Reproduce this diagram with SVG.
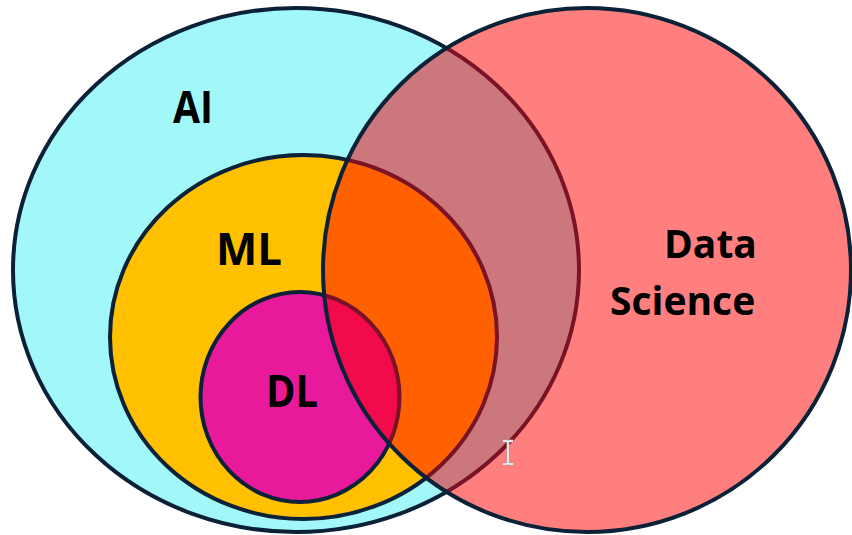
<svg xmlns="http://www.w3.org/2000/svg" width="852" height="535" viewBox="0 0 852 535">
<style>
.lbl{font-family:"Open Sans","Liberation Sans",sans-serif;font-weight:bold;fill:#000}
.edge{stroke:#0B2138;stroke-width:4}
.inner{stroke:#7A1326;stroke-width:4}
</style>
<defs>
<clipPath id="dsClip"><ellipse cx="587" cy="270" rx="264" ry="262"/></clipPath>
</defs>
<rect width="852" height="535" fill="#fff"/>
<g id="ai"><ellipse cx="296" cy="270" rx="283" ry="262" fill="#A2F7F9" class="edge"/></g>
<g id="ml"><ellipse cx="303.5" cy="337" rx="193.5" ry="182" fill="#FFC000" class="edge"/></g>
<g id="dl"><ellipse cx="300" cy="397" rx="99.5" ry="105" fill="#E8199A" class="edge"/></g>
<g id="ds">
<ellipse cx="587" cy="270" rx="264" ry="262" fill="#FF7F7F"/>
<g clip-path="url(#dsClip)">
<ellipse cx="296" cy="270" rx="283" ry="262" fill="#CC777B" class="inner"/>
<ellipse cx="303.5" cy="337" rx="193.5" ry="182" fill="#FF6100" class="inner"/>
<ellipse cx="300" cy="397" rx="99.5" ry="105" fill="#F20A4C" class="inner"/>
</g>
<ellipse cx="587" cy="270" rx="264" ry="262" fill="none" class="edge"/>
</g>
<g id="labels">
<text class="lbl" x="173" y="123" font-size="45" textLength="40" lengthAdjust="spacingAndGlyphs">AI</text>
<text class="lbl" x="216" y="265" font-size="45" textLength="66" lengthAdjust="spacingAndGlyphs">ML</text>
<text class="lbl" x="266" y="407" font-size="45" textLength="52" lengthAdjust="spacingAndGlyphs">DL</text>
<text class="lbl" x="664" y="258" font-size="39">Data</text>
<text class="lbl" x="610" y="315" font-size="39">Science</text>
</g>
<path d="M503,441 h4 l1,1 l1,-1 h4 M508,442 v21 M503,464 h4 l1,-1 l1,1 h4" fill="none" stroke="#999" stroke-width="3"/>
<path d="M503,441 h4 l1,1 l1,-1 h4 M508,442 v21 M503,464 h4 l1,-1 l1,1 h4" fill="none" stroke="#fff" stroke-width="1.5"/>
</svg>
